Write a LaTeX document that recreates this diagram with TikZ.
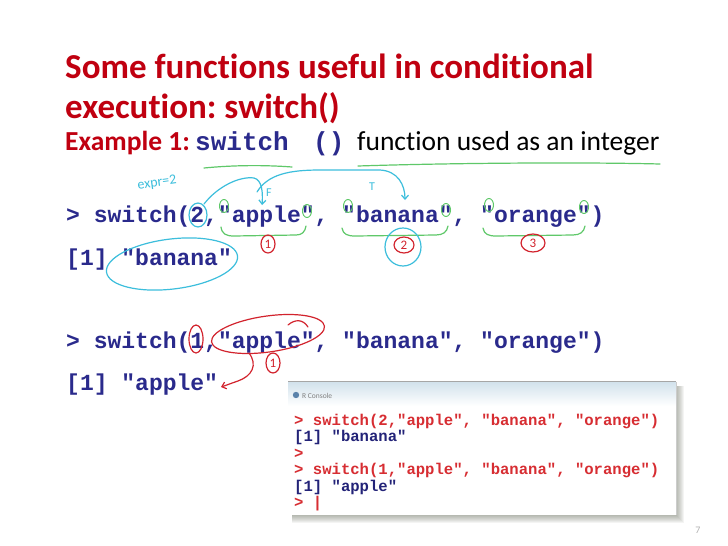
\documentclass[tikz,border=0pt]{standalone}
\usepackage{fontspec}
\setmainfont{Carlito}[Ligatures={NoCommon}]
\newfontfamily\codefont{Liberation Mono}[Ligatures=TeXOff]
\usetikzlibrary{arrows.meta}
\frenchspacing
\definecolor{slidered}{RGB}{192,0,16}
\definecolor{codeblue}{RGB}{42,42,140}
\definecolor{penblue}{RGB}{60,190,220}
\definecolor{pengreen}{RGB}{95,200,105}
\definecolor{penred}{RGB}{210,35,45}
\definecolor{conred}{RGB}{215,45,50}
\definecolor{conblue}{RGB}{35,35,120}
\definecolor{bartop}{RGB}{210,226,236}
\definecolor{iconblue}{RGB}{90,130,170}
\definecolor{shadowtint}{RGB}{70,80,60}
\begin{document}
\begin{tikzpicture}[x=1pt,y=-1pt,
  title/.style={anchor=base west, inner sep=0, text=slidered,
    font=\bfseries\fontsize{35}{35}\selectfont},
  subtitle/.style={anchor=base west, inner sep=0, text=slidered,
    font=\bfseries\fontsize{27.5}{27.5}\selectfont},
  plaintext/.style={anchor=base west, inner sep=0, text=black,
    font=\fontsize{27.5}{27.5}\selectfont},
  code/.style={anchor=base west, inner sep=0, text=codeblue,
    font=\codefont\bfseries\fontsize{23}{23}\selectfont},
  bigcode/.style={code, font=\codefont\bfseries\fontsize{26}{26}\selectfont},
  con/.style={anchor=base west, inner sep=0,
    font=\codefont\bfseries\fontsize{15.6}{15.6}\selectfont},
  pen/.style={line width=1.2pt, line cap=round, line join=round},
  tip/.style={-{Straight Barb[length=4pt,width=7pt]}},
  digit/.style={inner sep=0, text=penred, font=\fontsize{13}{13}\selectfont},
  scrawl/.style={inner sep=0, text=penblue, font=\fontsize{14}{14}\selectfont},
]
\useasboundingbox (0,0) rectangle (728,546);
\fill[white] (0,0) rectangle (728,546);

% slide text
\node[title] (t1) at (65,78) {Some functions useful in conditional};
\node[title] (t2) at (65,118) {execution: switch()};
\node[subtitle] (ex) at (65,150) {Example 1:};
\node[bigcode] (sw) at (195,150) {switch};
\node[bigcode] (par) at (313,150) {()};
\node[plaintext] (fn) at (357,150) {function used as an integer};

\node[code] (c1) at (66,222) {> switch(2,"apple", "banana", "orange")};
\node[code] (r1) at (66,265) {[1] "banana"};
\node[code] (c2) at (66,348) {> switch(1,"apple", "banana", "orange")};
\node[code] (r2) at (66,390) {[1] "apple"};

% R console window: shadow, frame, title bar
\foreach \i in {1,...,8}
  \fill[shadowtint, opacity=0.06] (292,386) rectangle (676+\i,515+\i);
\fill[white] (288,381) rectangle (676,515);
\shade[top color=bartop, bottom color=white] (288,382) rectangle (676,406);
\draw[gray!70, line width=0.6pt] (288,381.5) -- (676,381.5);
\fill[gray!40!white] (676,382) rectangle (677,515);
\fill[iconblue] (296,395) circle (3.2);
\node[anchor=base west, inner sep=0, text=gray, font=\fontsize{7.5}{7.5}\selectfont]
  (ct) at (302,398) {R Console};
\node[con, text=conred] (k1) at (294,425) {> switch(2,"apple", "banana", "orange")};
\node[con, text=conblue] (k2) at (294,441.5) {[1] "banana"};
\node[con, text=conred] (k3) at (294,458) {>};
\node[con, text=conred] (k4) at (294,474.5) {> switch(1,"apple", "banana", "orange")};
\node[con, text=conblue] (k5) at (294,491) {[1] "apple"};
\node[con, text=conred] (k6) at (294,507.5) {> |};

\node[text=gray!60, inner sep=0, font=\fontsize{10}{10}\selectfont] (pg) at (698,530) {7};

% green pen: underlines, quote marks, braces
\draw[pen, pengreen] (204,168) .. controls (235,165) and (265,165) .. (292,167);
\draw[pen, pengreen] (358,166) .. controls (450,163) and (580,162) .. (660,164);
\foreach \qx/\qy in {224/206, 307/211, 348/206, 446/210, 489/205, 584/207}
  \draw[pen, pengreen, line width=1pt] (\qx,\qy) ellipse [x radius=4.5, y radius=6.5];
\draw[pen, pengreen] (221,227) .. controls (222,234) and (226,236) .. (234,236)
  -- (296,235) .. controls (302,235) and (305,232) .. (306,226);
\draw[pen, pengreen] (342,228) .. controls (343,234) and (347,236) .. (355,236)
  -- (436,235) .. controls (443,235) and (447,232) .. (448,226);
\draw[pen, pengreen] (483,228) .. controls (484,234) and (488,236) .. (496,236)
  -- (573,235) .. controls (580,235) and (584,232) .. (585,226);

% red pen: ordinal numbers
\node[digit] (n1) at (268,244) {1};
\draw[pen, penred] (n1.center) ellipse [x radius=7, y radius=9];
\node[digit] (n2) at (404,245) {2};
\draw[pen, penred] (n2.center) ellipse [x radius=10, y radius=8];
\node[digit] (n3) at (533,243) {3};
\draw[pen, penred] (n3.center) ellipse [x radius=12, y radius=9];

% blue pen: expression value and the branch it picks
\node[scrawl, rotate=8] (expr) at (157,183) {expr=2};
\draw[pen, penblue] (198,215) ellipse [x radius=9, y radius=12];
\draw[pen, penblue, tip] (204,204) .. controls (218,186) and (240,176) .. (254,178)
  .. controls (262,180) and (263,192) .. (262,205);
\node[scrawl, font=\fontsize{12}{12}\selectfont] (fl) at (269,193) {F};
\draw[pen, penblue, tip] (257,192) .. controls (268,174) and (290,170) .. (320,170)
  -- (380,170) .. controls (398,171) and (405,185) .. (405,200);
\node[scrawl, font=\fontsize{12}{12}\selectfont] (tl) at (372,187) {T};
\draw[pen, penblue] (403,247) ellipse [x radius=18, y radius=19];
\draw[pen, penblue, rotate around={7:(172,264)}] (172,264) ellipse [x radius=66, y radius=25];

% red pen: second call
\draw[pen, penred] (196,339) ellipse [x radius=7, y radius=14];
\draw[pen, penred, rotate around={8:(268,334)}] (268,334) ellipse [x radius=57, y radius=18];
\draw[pen, penred] (288,325) .. controls (295,319) and (303,319) .. (308,327);
\node[digit] (n4) at (273,363) {1};
\draw[pen, penred] (n4.center) ellipse [x radius=7, y radius=10];
\draw[pen, penred, tip] (249,353) .. controls (258,365) and (252,376) .. (238,381)
  .. controls (232,383) and (227,385) .. (221,387);
\end{tikzpicture}
\end{document}
